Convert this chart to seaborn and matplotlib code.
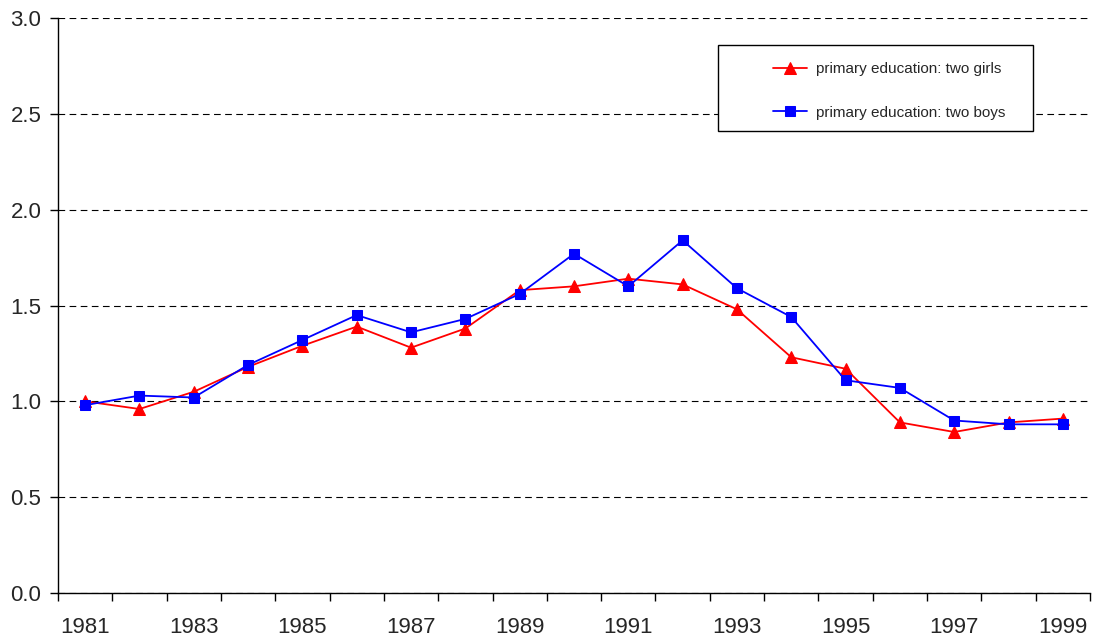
import numpy as np
import pandas as pd
import seaborn as sns
import matplotlib.pyplot as plt
from matplotlib.patches import Rectangle
from matplotlib.ticker import FixedLocator, MultipleLocator

sns.set_style("white")
plt.rcParams['font.family'] = ['Liberation Sans', 'DejaVu Sans']

# data
years = list(range(1981, 2000))
girls = [1.00, 0.96, 1.05, 1.18, 1.29, 1.39, 1.28, 1.38, 1.58, 1.60,
         1.64, 1.61, 1.48, 1.23, 1.17, 0.89, 0.84, 0.89, 0.91]
boys = [0.98, 1.03, 1.02, 1.19, 1.32, 1.45, 1.36, 1.43, 1.56, 1.77,
        1.60, 1.84, 1.59, 1.44, 1.11, 1.07, 0.90, 0.88, 0.88]
series_names = ["primary education: two girls", "primary education: two boys"]
year_labels = [str(y) for y in years[::2]]

df = pd.DataFrame({"pos": np.arange(len(years)), "girls": girls, "boys": boys})

W, H = 1093, 640
fig = plt.figure(figsize=(W / 100, H / 100), dpi=100)
ax = fig.add_axes([58 / W, 1 - 593 / H, 1032 / W, 575 / H])

sns.lineplot(data=df, x="pos", y="girls", ax=ax, color="#ff0000", marker="^",
             markersize=8.5, markeredgecolor="#ff0000", linewidth=1.3,
             label=series_names[0])
sns.lineplot(data=df, x="pos", y="boys", ax=ax, color="#0000ff", marker="s",
             markersize=6.5, markeredgecolor="#0000ff", linewidth=1.3,
             label=series_names[1])

ax.set_xlim(-0.5, len(years) - 0.5)
ax.set_ylim(0, 3.0)
ax.set_xlabel("")
ax.set_ylabel("")

# category axis: ticks between categories, labels every second year
ax.xaxis.set_major_locator(FixedLocator(np.arange(0, len(years), 2)))
ax.set_xticklabels(year_labels)
ax.xaxis.set_minor_locator(FixedLocator(np.arange(-0.5, len(years), 1)))
ax.tick_params(axis="x", which="major", length=0, labelsize=16, pad=17)
ax.tick_params(axis="x", which="minor", length=6, width=1, color="black",
               direction="out", bottom=True)
ax.yaxis.set_major_locator(MultipleLocator(0.5))
ax.yaxis.set_major_formatter(plt.FormatStrFormatter("%.1f"))
ax.tick_params(axis="y", length=6, width=1, color="black", direction="out",
               labelsize=16, left=True, pad=6)

ax.grid(axis="y", color="black", linestyle=(0, (6, 4)), linewidth=0.8)
for side in ["top", "right"]:
    ax.spines[side].set_visible(False)
for side in ["left", "bottom"]:
    ax.spines[side].set_color("black")
    ax.spines[side].set_linewidth(1)

# legend box drawn separately (Excel-style wide padding)
box = Rectangle((718 / W, 1 - 131 / H), 315 / W, 86 / H,
                transform=fig.transFigure, facecolor="white",
                edgecolor="black", linewidth=1, zorder=4, clip_on=False)
ax.add_patch(box)
leg = ax.legend(loc="upper left", bbox_to_anchor=(773 / W, 1 - 62 / H),
                bbox_transform=fig.transFigure, fontsize=11, frameon=False,
                handlelength=2.2, borderpad=0, labelspacing=1.95,
                borderaxespad=0, handletextpad=0.6)
leg.set_zorder(6)

fig.savefig("out.png", dpi=100)
